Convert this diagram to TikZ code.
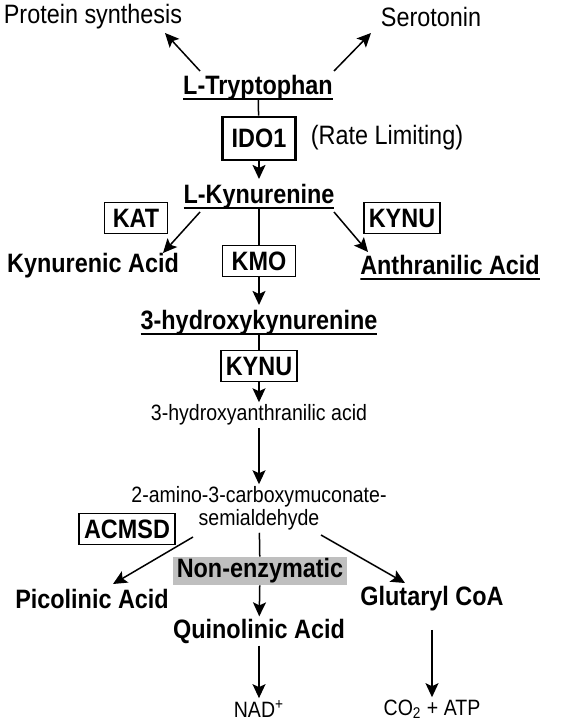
\documentclass[tikz,border=0pt]{standalone}
\usepackage{fontspec}
\setmainfont[FakeStretch=0.88]{Liberation Sans}
\usetikzlibrary{arrows.meta,calc}

\newcommand{\bigtxt}{\fontsize{13.3}{15}\selectfont}
\newcommand{\smalltxt}{\fontsize{11.1}{11.5}\selectfont}

\begin{document}
\begin{tikzpicture}[x=0.5pt, y=-0.5pt,
	every node/.style={font=\bigtxt, inner sep=1pt},
	met/.style={font=\bigtxt\bfseries},
	under/.style={font=\bigtxt\bfseries, inner xsep=0pt, inner ysep=2.5pt, text depth=0pt,
		path picture={\draw[line width=1pt] ([yshift=0.5pt]path picture bounding box.south west) -- ([yshift=0.5pt]path picture bounding box.south east);}},
	enz/.style={draw, line width=0.7pt, font=\bigtxt\bfseries, inner xsep=2.5pt, minimum height=15.5pt},
	small/.style={font=\smalltxt},
	arr/.style={-{Stealth[length=7pt,width=6.5pt,inset=1.5pt]}, line width=0.75pt},
	ln/.style={line width=0.75pt}]
	\useasboundingbox (0,0) rectangle (579,727);

	% tryptophan branch
	\node (prot) at (93,17) {Protein synthesis};
	\node (sero) at (431,17) {Serotonin};
	\node[under] (trp) at (258,85) {L-Tryptophan};
	\node[enz, line width=1.3pt, minimum height=21.5pt, minimum width=36.5pt] (ido) at (259,138.5) {IDO1};
	\node (rate) at (387,138) {(Rate Limiting)};
	\draw[arr] ($(trp.center)+(-58,-14)$) -- ($(prot.center)+(72,16)$);
	\draw[arr] ($(trp.center)+(76,-14)$) -- ($(sero.center)+(-60,16)$);
	\draw[ln] (trp) -- (ido);

	% kynurenine
	\node[under] (kyn) at (259,194) {L-Kynurenine};
	\draw[arr] (ido) -- (kyn);
	\node[enz, minimum width=31.5pt] (kat) at (136,218) {KAT};
	\node[enz, minimum width=36.5pt] (kynuA) at (402,218) {KYNU};
	\node[enz, minimum width=36.5pt] (kmo) at (259,261) {KMO};
	\node[met] (kyna) at (93,266) {Kynurenic Acid};
	\node[under] (anth) at (450,265) {Anthranilic Acid};
	\draw[arr] ($(kyn.center)+(-59,18)$) -- ($(kyna.center)+(70,-13)$);
	\draw[arr] ($(kyn.center)+(75,18)$) -- ($(anth.center)+(-82,-13)$);
	\draw[ln] (kyn) -- (kmo);

	\node[under] (hk) at (259,320) {3-hydroxykynurenine};
	\draw[arr] (kmo) -- (hk);
	\node[enz, minimum width=36.5pt] (kynuB) at (259,366) {KYNU};
	\draw[ln] (hk) -- (kynuB);
	\node[small] (haa) at (259,415) {3-hydroxyanthranilic acid};
	\draw[arr] (kynuB) -- (haa);
	\node[small, align=center] (acms) at (259,508.5) {2-amino-3-carboxymuconate-\\semialdehyde};
	\draw[arr] (haa) -- (acms);

	% lower branches
	\node[enz, minimum width=45pt] (acmsd) at (127,529) {ACMSD};
	\node[font=\bigtxt\bfseries, fill=black!25, inner xsep=2pt, inner ysep=0pt, minimum height=14pt] (nonenz) at (260,571) {Non-enzymatic};
	\node[met] (pic) at (92,599) {Picolinic Acid};
	\node[met] (glu) at (432,599) {Glutaryl CoA};
	\node[met] (quin) at (259,631) {Quinolinic Acid};
	\node[small] (nad) at (259,709) {NAD\textsuperscript{+}};
	\node[small] (co2) at (432,709) {CO\textsubscript{2} + ATP};
	\draw[arr] ($(acms.center)+(-66,28.5)$) -- ($(pic.center)+(21,-15)$);
	\draw[arr] ($(acms.center)+(62,26.5)$) -- ($(glu.center)+(-27,-16)$);
	\draw[ln] (acms) -- (nonenz);
	\draw[arr] (nonenz) -- (quin);
	\draw[arr] (quin) -- (nad);
	\draw[arr, shorten <=8pt] (glu) -- (co2);
\end{tikzpicture}
\end{document}
